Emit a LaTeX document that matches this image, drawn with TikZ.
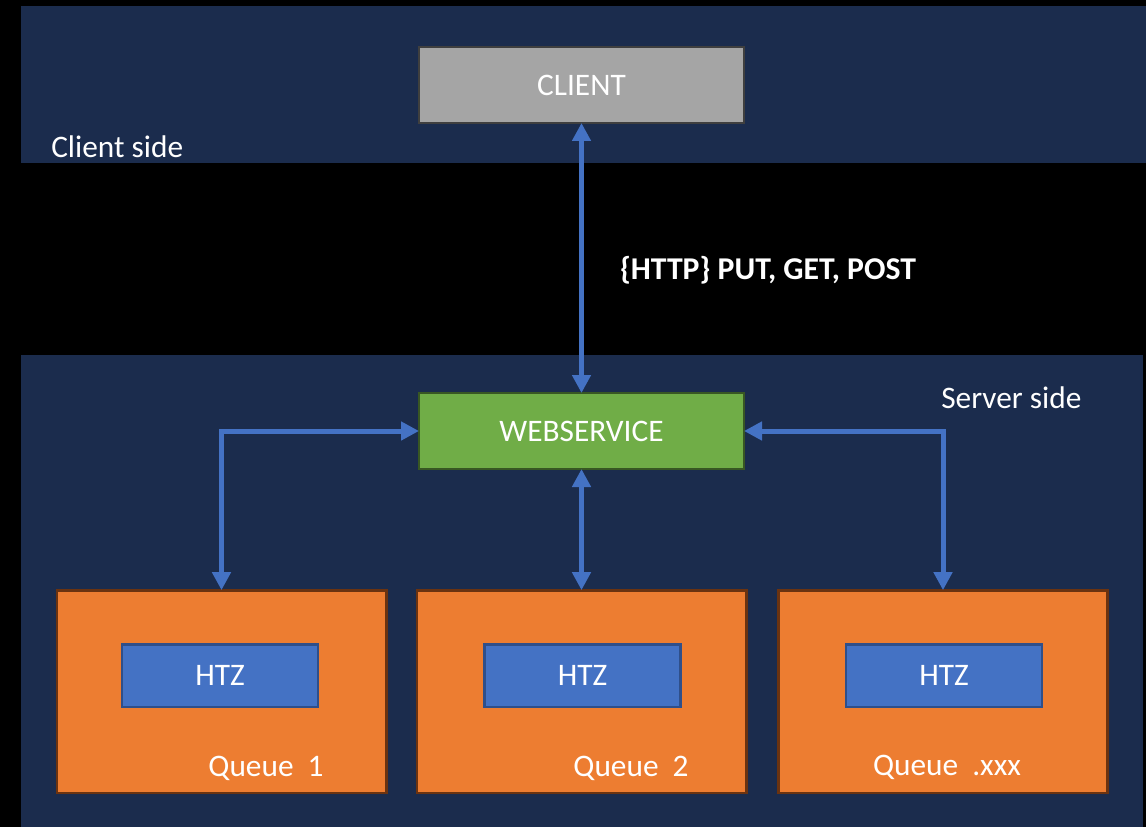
\documentclass[tikz,border=0pt]{standalone}
\usepackage{fontspec}
\setmainfont{Carlito}
\usepackage{xcolor}
\usetikzlibrary{positioning}
\usetikzlibrary{arrows.meta}

\definecolor{bgNavy}{HTML}{1B2C4D}
\definecolor{arrowBlue}{HTML}{4472C4}
\definecolor{clientGray}{HTML}{A5A5A5}
\definecolor{clientEdge}{HTML}{3F3F3F}
\definecolor{wsGreen}{HTML}{70AD47}
\definecolor{wsEdge}{HTML}{385723}
\definecolor{queueOrange}{HTML}{ED7D31}
\definecolor{queueEdge}{HTML}{6B3310}
\definecolor{htzEdge}{HTML}{2F4F8A}

\begin{document}
\begin{tikzpicture}[
        x=0.75pt, y=-0.75pt,
        >={Triangle[length=13.5pt, width=13.5pt]},
        link/.style = { <->, draw = arrowBlue, line width = 3.75pt },
        plainBox/.style = { rectangle, draw, line width = 2pt, text = white, font = \fontsize{23.5}{28}\selectfont, inner sep = 0pt, outer sep = 0pt },
        clientBox/.style = { plainBox, fill = clientGray, draw = clientEdge, minimum width = 243.75pt, minimum height = 57pt },
        serviceBox/.style = { plainBox, fill = wsGreen, draw = wsEdge, minimum width = 243.75pt, minimum height = 57pt },
        queueBox/.style = { plainBox, fill = queueOrange, draw = queueEdge, minimum width = 247pt, minimum height = 152pt },
        htzBox/.style = { plainBox, fill = arrowBlue, draw = htzEdge, minimum width = 147pt, minimum height = 47pt },
        caption/.style = { text = white, font = \fontsize{23.5}{28}\selectfont, inner sep = 0pt },
                ]
        \def\qsp{\hspace{0.45em}}

        % background and the two bands
        \fill[black] (0,0) rectangle (1146,827);
        \useasboundingbox (0,0) rectangle (1146,827);
        \fill[bgNavy] (21,6) rectangle (1146,163);
        \fill[bgNavy] (21,355) rectangle (1143,827);

        \node[caption, anchor = west] (clientSide) at (51,147) {Client side};
        \node[caption, anchor = west] (serverSide) at (941,398) {Server side};

        \node[clientBox] (client) at (581.5,85) {CLIENT};
        \node[serviceBox] (webservice) at (581.5,431) {WEBSERVICE};

        \node[queueBox] (queueOne) at (221.5,691.5) {};
        \node[queueBox] (queueTwo) at (581.5,691.5) {};
        \node[queueBox] (queueThree) at (943,691.5) {};

        \node[htzBox] (htzOne) at (220,675.5) {HTZ};
        \node[htzBox] (htzTwo) at (582.5,675.5) {HTZ};
        \node[htzBox] (htzThree) at (944,675.5) {HTZ};

        \node[caption] (queueOneLabel) at (266,768) {Queue\qsp 1};
        \node[caption] (queueTwoLabel) at (631,768) {Queue\qsp 2};
        \node[caption] (queueThreeLabel) at (947,767) {Queue\qsp .xxx};

        \draw[link] (client) -- node[caption, anchor = west, xshift = 27pt, yshift = -9pt, font = \fontsize{23.8}{28}\selectfont\bfseries] (httpLabel) {\{HTTP\} PUT, GET, POST} (webservice);

        \draw[link] (webservice.west) -| (queueOne.north);
        \draw[link] (webservice) -- (queueTwo);
        \draw[link] (webservice.east) -| (queueThree.north);
\end{tikzpicture}
\end{document}
